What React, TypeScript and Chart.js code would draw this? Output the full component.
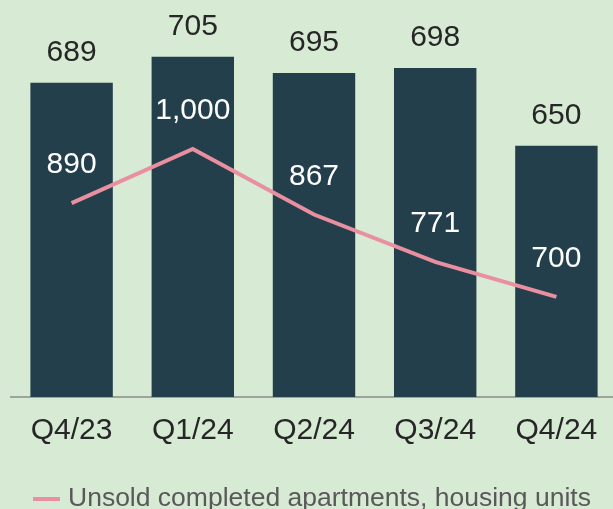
import React, { useEffect, useRef } from "react";
import { Chart, registerables } from "chart.js";

Chart.register(...registerables);

const categories = ["Q4/23", "Q1/24", "Q2/24", "Q3/24", "Q4/24"];
const barValues = [689, 705, 695, 698, 650];
const lineValues = [890, 1000, 867, 771, 700];
const lineLabel = "Unsold completed apartments, housing units";

const BG = "#d6ead4";
const BAR = "#243f4c";
const PINK = "#e98fa0";
const FONT = "'Liberation Sans', Arial, sans-serif";

const fmt = (v: number) => v.toLocaleString("en-US");

const labelPlugin = {
  id: "valueLabels",
  afterDatasetsDraw(chart: any) {
    const ctx = chart.ctx;
    ctx.save();
    ctx.font = `30px ${FONT}`;
    ctx.textAlign = "center";
    ctx.textBaseline = "middle";
    const barMeta = chart.getDatasetMeta(0);
    barMeta.data.forEach((el: any, i: number) => {
      ctx.fillStyle = "#262626";
      ctx.fillText(fmt(barValues[i]), el.x, el.y - 30);
    });
    const lineMeta = chart.getDatasetMeta(1);
    lineMeta.data.forEach((el: any, i: number) => {
      ctx.fillStyle = "#ffffff";
      ctx.fillText(fmt(lineValues[i]), el.x, el.y - 38);
    });
    ctx.restore();
  },
};

const legendPlugin = {
  id: "customLegend",
  afterDraw(chart: any) {
    const ctx = chart.ctx;
    ctx.save();
    ctx.fillStyle = PINK;
    ctx.fillRect(33, 497, 27, 4);
    ctx.font = `26.5px ${FONT}`;
    ctx.fillStyle = "#595959";
    ctx.textAlign = "left";
    ctx.textBaseline = "middle";
    ctx.fillText(lineLabel, 68, 499);
    ctx.restore();
  },
};

export default function App() {
  const ref = useRef<HTMLCanvasElement>(null);
  useEffect(() => {
    if (!ref.current) return;
    const chart = new Chart(ref.current, {
      type: "bar",
      data: {
        labels: categories,
        datasets: [
          {
            type: "bar",
            label: "Bars",
            data: barValues,
            backgroundColor: BAR,
            borderWidth: 0,
            barPercentage: 0.68,
            categoryPercentage: 1,
            yAxisID: "y",
            order: 2,
          },
          {
            type: "line",
            label: lineLabel,
            data: lineValues,
            borderColor: PINK,
            backgroundColor: PINK,
            borderWidth: 4,
            pointRadius: 0,
            tension: 0,
            yAxisID: "y2",
            order: 1,
          } as any,
        ],
      },
      options: {
        responsive: false,
        animation: false,
        layout: { padding: { left: 11, right: 1, top: 0, bottom: 60 } },
        scales: {
          x: {
            grid: { display: false, drawTicks: false },
            border: { display: true, color: "#9ba59b", width: 2 },
            ticks: {
              color: "#262626",
              font: { family: FONT, size: 30 },
              padding: 16,
              maxRotation: 0,
              autoSkip: false,
            },
            afterFit: (scale: any) => {
              scale.height = 52;
            },
          },
          y: { display: false, min: 495, max: 740 },
          y2: { display: false, min: 497, max: 1302 },
        },
        plugins: {
          tooltip: { enabled: false },
          legend: { display: false },
        },
      },
      plugins: [labelPlugin, legendPlugin],
    });
    return () => chart.destroy();
  }, []);
  return (
    <div
      style={{
        position: "absolute",
        left: 0,
        top: 0,
        width: 613,
        height: 509,
        overflow: "hidden",
        background: BG,
      }}
    >
      <canvas ref={ref} width={618} height={509} style={{ width: 618, height: 509, display: "block" }} />
    </div>
  );
}
